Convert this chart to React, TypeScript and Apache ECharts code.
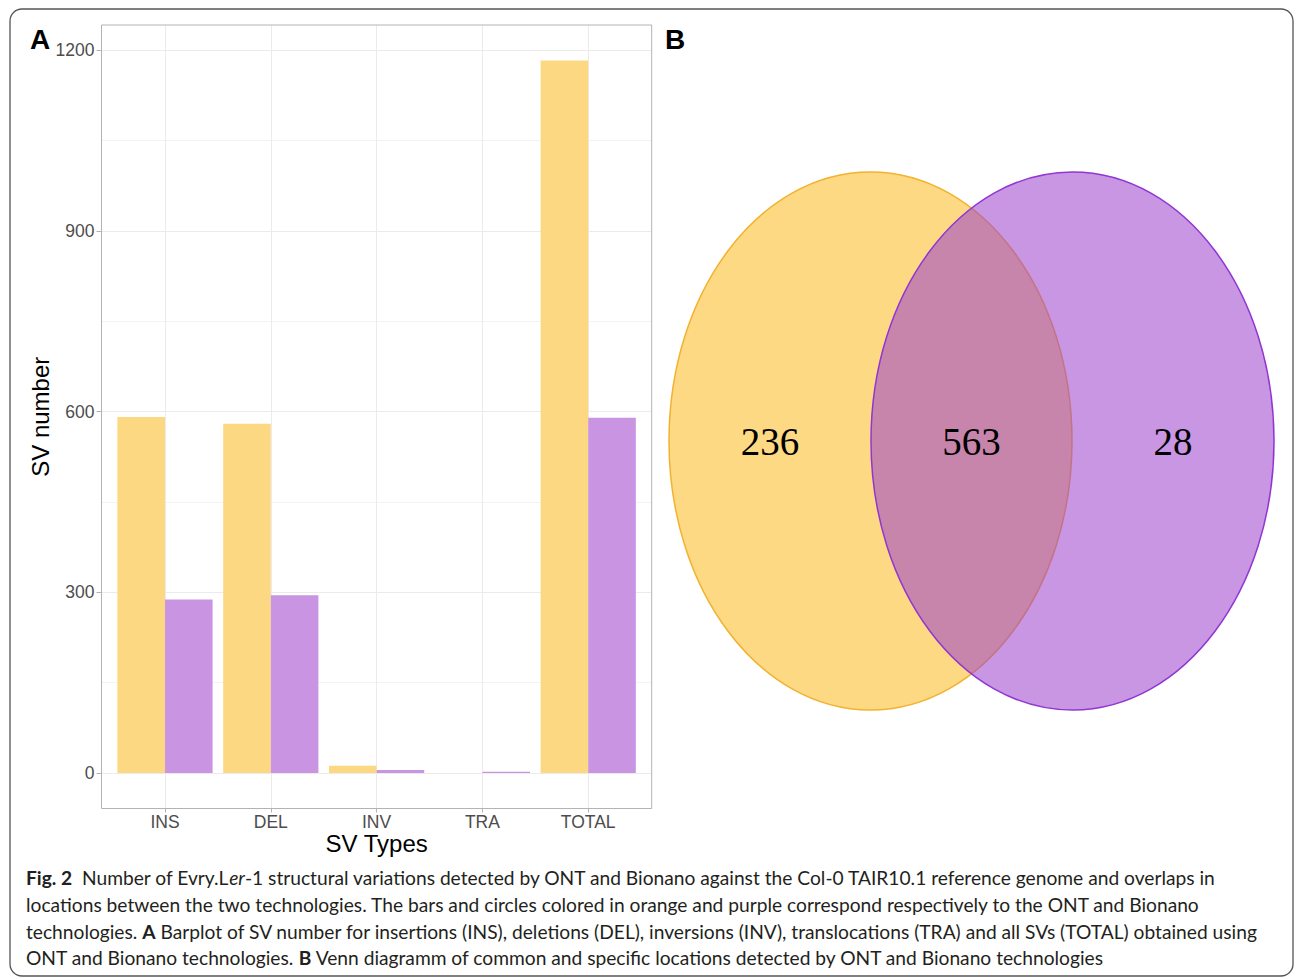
import React, { useEffect, useRef } from 'react';
import * as echarts from 'echarts';

// ---------- data ----------
const categories = ['INS', 'DEL', 'INV', 'TRA', 'TOTAL'];
const ontValues = [591, 580, 12, 0, 1183];
const bionanoValues = [288, 295, 5, 2, 590];
const yTickStep = 300;
const yTickMax = 1200;
const vennCounts = [236, 563, 28]; // ONT only, common, Bionano only

const captionLines = [
  '{b|Fig. 2}  Number of Evry.L{i|er}-1 structural variations detected by ONT and Bionano against the Col-0 TAIR10.1 reference genome and overlaps in',
  'locations between the two technologies. The bars and circles colored in orange and purple correspond respectively to the ONT and Bionano',
  'technologies. {b|A} Barplot of SV number for insertions (INS), deletions (DEL), inversions (INV), translocations (TRA) and all SVs (TOTAL) obtained using',
  'ONT and Bionano technologies. {b|B} Venn diagramm of common and specific locations detected by ONT and Bionano technologies',
];

// ---------- colours ----------
const ONT_COLOR = '#FDD882';
const BIONANO_COLOR = '#C995E3';

export default function App() {
  const ref = useRef<HTMLDivElement>(null);

  useEffect(() => {
    if (!ref.current) return;
    const chart = echarts.init(ref.current, null, { renderer: 'svg' });

    // panel geometry (ggplot-like expansion)
    const panel = { left: 101.5, top: 25, width: 550.2, height: 783.5 };
    const dataMax = Math.max(...ontValues, ...bionanoValues);
    const yMin = -0.05 * dataMax;
    const yMax = 1.05 * dataMax;
    const xMin = 0.4;
    const xMax = categories.length + 0.6;
    const yToPx = (v: number) => panel.top + ((yMax - v) / (yMax - yMin)) * panel.height;
    const xToPx = (v: number) => panel.left + ((v - xMin) / (xMax - xMin)) * panel.width;
    const band = panel.width / (xMax - xMin);

    const sans = "'Liberation Sans', Arial, Helvetica, sans-serif";
    const axisGrey = '#4D4D4D';
    const gridGrey = '#EBEBEB';

    // venn geometry
    const venn = { cy: 441, rx: 201.5, ry: 269, c1: 870.5, c2: 1072.5 };
    const vennLabelX = [
      (venn.c1 - venn.rx + venn.c2 - venn.rx) / 2,
      (venn.c2 - venn.rx + venn.c1 + venn.rx) / 2,
      (venn.c1 + venn.rx + venn.c2 + venn.rx) / 2,
    ];

    const capFont = "Lato, 'Open Sans', sans-serif";
    const capSize = 19.2;
    const captionY = [877, 904, 931, 957];

    const graphics: any[] = [
      // outer frame
      {
        type: 'rect',
        shape: { x: 10, y: 9, width: 1283, height: 967, r: 12 },
        style: { fill: 'none', stroke: '#555555', lineWidth: 1.3 },
        z: 100,
        silent: true,
      },
      // plot panel border
      {
        type: 'rect',
        shape: { x: panel.left, y: panel.top, width: panel.width, height: panel.height },
        style: { fill: 'none', stroke: '#B3B3B3', lineWidth: 1 },
        z: 100,
        silent: true,
      },
      // panel letters
      {
        type: 'text',
        x: 30,
        y: 39.5,
        style: { text: 'A', fontSize: 28, fontWeight: 'bold', fontFamily: sans, fill: '#000', textAlign: 'left', textVerticalAlign: 'middle', align: 'left', verticalAlign: 'middle' },
        z: 100,
      },
      {
        type: 'text',
        x: 665,
        y: 39.5,
        style: { text: 'B', fontSize: 28, fontWeight: 'bold', fontFamily: sans, fill: '#000', textAlign: 'left', textVerticalAlign: 'middle', align: 'left', verticalAlign: 'middle' },
        z: 100,
      },
      // axis titles
      {
        type: 'text',
        x: 40,
        y: panel.top + panel.height / 2,
        rotation: Math.PI / 2,
        style: { text: 'SV number', fontSize: 24, fontFamily: sans, fill: '#000', textAlign: 'center', textVerticalAlign: 'middle', align: 'center', verticalAlign: 'middle' },
        z: 100,
      },
      {
        type: 'text',
        x: panel.left + panel.width / 2,
        y: 843,
        style: { text: 'SV Types', fontSize: 24, fontFamily: sans, fill: '#000', textAlign: 'center', textVerticalAlign: 'middle', align: 'center', verticalAlign: 'middle' },
        z: 100,
      },
      // venn ellipses
      {
        type: 'ellipse',
        shape: { cx: venn.c1, cy: venn.cy, rx: venn.rx, ry: venn.ry },
        style: { fill: '#FDD984', stroke: '#F2B230', lineWidth: 1.5 },
        z: 10,
      },
      {
        type: 'ellipse',
        shape: { cx: venn.c2, cy: venn.cy, rx: venn.rx, ry: venn.ry },
        style: { fill: 'rgba(156,64,205,0.55)', stroke: '#9236D1', lineWidth: 1.5 },
        z: 11,
      },
      ...vennCounts.map((c, i) => ({
        type: 'text',
        x: vennLabelX[i],
        y: venn.cy,
        style: {
          text: String(c),
          fontSize: 39,
          fontFamily: "'Liberation Serif', 'Times New Roman', serif",
          fill: '#000',
          textAlign: 'center',
          textVerticalAlign: 'middle',
          align: 'center',
          verticalAlign: 'middle',
        },
        z: 20,
      })),
      // caption
      ...captionLines.map((line, i) => ({
        type: 'text',
        x: 26,
        y: captionY[i],
        style: {
          text: line,
          fontSize: capSize,
          fontFamily: capFont,
          fill: '#231F20',
          textAlign: 'left',
          textVerticalAlign: 'middle',
          align: 'left',
          verticalAlign: 'middle',
          rich: {
            b: { fontSize: capSize, fontFamily: capFont, fontWeight: 'bold', fill: '#231F20' },
            i: { fontSize: capSize, fontFamily: capFont, fontStyle: 'italic', fill: '#231F20' },
          },
        },
        z: 100,
      })),
    ];

    const option: any = {
      animation: false,
      backgroundColor: '#ffffff',
      grid: [
        {
          left: panel.left,
          width: panel.width,
          top: yToPx(yTickMax),
          height: yToPx(0) - yToPx(yTickMax),
          containLabel: false,
        },
        {
          left: xToPx(1),
          width: xToPx(categories.length) - xToPx(1),
          top: panel.top,
          height: panel.height,
          containLabel: false,
        },
      ],
      xAxis: [
        { type: 'value', gridIndex: 0, min: 0, max: 1, show: false },
        {
          type: 'value',
          gridIndex: 1,
          min: 1,
          max: categories.length,
          interval: 1,
          position: 'bottom',
          axisLine: { show: false, onZero: false },
          axisTick: { show: true, length: 4, lineStyle: { color: '#B3B3B3' } },
          axisLabel: {
            show: true,
            margin: 4,
            fontSize: 17.5,
            fontFamily: sans,
            color: axisGrey,
            formatter: (v: number) => categories[Math.round(v) - 1] ?? '',
          },
          splitLine: { show: true, lineStyle: { color: gridGrey, width: 1 } },
        },
      ],
      yAxis: [
        {
          type: 'value',
          gridIndex: 0,
          min: 0,
          max: yTickMax,
          interval: yTickStep,
          position: 'left',
          axisLine: { show: false, onZero: false },
          axisTick: { show: true, length: 5, lineStyle: { color: '#B3B3B3' } },
          axisLabel: {
            show: true,
            margin: 7,
            fontSize: 17.5,
            fontFamily: sans,
            color: axisGrey,
            formatter: (v: number) => String(v),
          },
          splitLine: { show: true, lineStyle: { color: gridGrey, width: 1 } },
          minorTick: { show: false, splitNumber: 2 },
          minorSplitLine: { show: true, lineStyle: { color: '#F3F3F3', width: 1 } },
        },
        { type: 'value', gridIndex: 1, min: yMin, max: yMax, show: false },
      ],
      series: [
        {
          name: 'ONT',
          type: 'bar',
          xAxisIndex: 1,
          yAxisIndex: 1,
          data: ontValues.map((v, i) => [i + 1, v]),
          barWidth: band * 0.45,
          barGap: '0%',
          clip: false,
          itemStyle: { color: ONT_COLOR },
          z: 3,
        },
        {
          name: 'Bionano',
          type: 'bar',
          xAxisIndex: 1,
          yAxisIndex: 1,
          data: bionanoValues.map((v, i) => [i + 1, v]),
          barWidth: band * 0.45,
          barGap: '0%',
          clip: false,
          itemStyle: { color: BIONANO_COLOR },
          z: 3,
        },
      ],
      graphic: graphics,
    };

    chart.setOption(option);
    return () => chart.dispose();
  }, []);

  return (
    <div
      ref={ref}
      style={{ position: 'absolute', left: 0, top: 0, width: 1295, height: 977 }}
    />
  );
}
